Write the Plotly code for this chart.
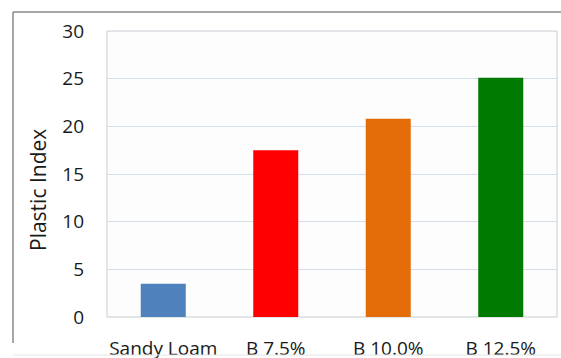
import plotly.graph_objects as go

categories = ["Sandy Loam", "B 7.5%", "B 10.0%", "B 12.5%"]
plastic_index = [3.5, 17.5, 20.8, 25.1]
bar_colors = ["#4f81bd", "#ff0000", "#e36c09", "#007a00"]
y_ticks = [0, 5, 10, 15, 20, 25, 30]

FONT = "Open Sans"

fig = go.Figure(go.Bar(
    x=categories, y=plastic_index,
    marker=dict(color=bar_colors, line=dict(width=0)),
    width=0.4,
))

fig.update_layout(
    width=561, height=358,
    margin=dict(l=107, r=4, t=31, b=41, autoexpand=False),
    paper_bgcolor="white", plot_bgcolor="#fdfdfd",
    showlegend=False,
    font=dict(family=FONT, size=19, color="#1a1a1a"),
    xaxis=dict(showgrid=False, showline=False, ticks="", ticklabelstandoff=18,
               tickfont=dict(size=19), zeroline=False, automargin=False),
    yaxis=dict(range=[0, 30], tickvals=y_ticks, showgrid=True, gridcolor="#d6dee9",
               gridwidth=1.3, zeroline=False, ticks="", ticklabelstandoff=22,
               tickfont=dict(size=19), showline=False, automargin=False),
    shapes=[
        dict(type="rect", xref="paper", yref="paper", x0=0, x1=1, y0=0, y1=1,
             line=dict(color="#c8ccd2", width=1), layer="below"),
        dict(type="line", xref="paper", yref="paper", x0=-94/450, x1=1.02, y0=1 + 19/286, y1=1 + 19/286,
             line=dict(color="#888888", width=1.5)),
        dict(type="line", xref="paper", yref="paper", x0=-94/450, x1=-94/450, y0=-26/286, y1=1 + 19/286,
             line=dict(color="#888888", width=1.5)),
        dict(type="line", xref="paper", yref="paper", x0=-94/450, x1=1.02, y0=-38/286, y1=-38/286,
             line=dict(color="#e4e4e4", width=1)),
    ],
    annotations=[dict(text="Plastic Index", textangle=-90, xref="paper", yref="paper",
                      x=-69/450, y=(317 - 190) / 286, xanchor="center", yanchor="middle",
                      showarrow=False, font=dict(size=21, family=FONT))],
)

fig.write_html("out.html", config={"displayModeBar": False},
               post_script="document.body.style.margin='0';document.body.style.overflow='hidden';")
